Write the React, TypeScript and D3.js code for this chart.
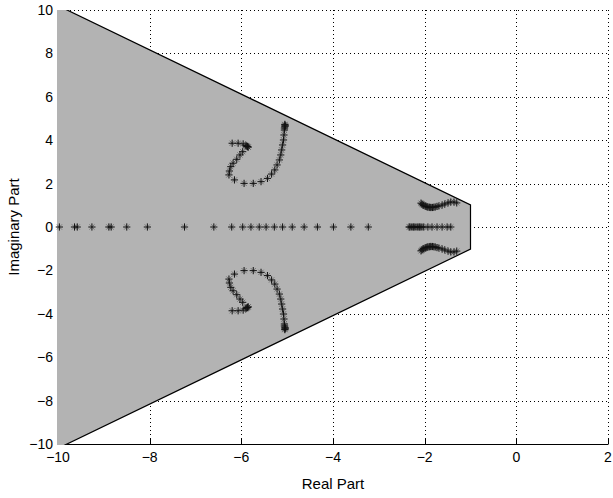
import React from 'react';
import * as d3 from 'd3';

// Axis ticks
const xTicks = [-10, -8, -6, -4, -2, 0, 2];
const yTicks = [-10, -8, -6, -4, -2, 0, 2, 4, 6, 8, 10];

// Admissible pole region: damping ratio >= 0.7 and real part <= -1
const dampingRatio = 0.7;
const sigmaMax = -1;
const regionLeft = -10;

// Closed-loop poles on the real axis
const realAxisPoles = [
  -9.97, -9.64, -9.58, -9.26, -8.89, -8.84, -8.5, -8.05, -7.24, -6.6, -6.21,
  -5.97, -5.79, -5.61, -5.46, -5.28, -5.1, -4.89, -4.63, -4.34, -3.99, -3.61,
  -3.23, -2.34, -2.32, -2.28, -2.25, -2.23, -2.19, -2.15, -2.12, -2.1, -2.06,
  -2.02, -1.93, -1.84, -1.73, -1.62, -1.51, -1.43,
];

// Slow complex branch (upper half plane), [re, im]
const slowBranch: [number, number][] = [
  [-2.08, 1.1], [-2.06, 1.06], [-2.04, 1.02], [-2.02, 1.0], [-1.99, 0.97],
  [-1.97, 0.95], [-1.95, 0.93], [-1.93, 0.92], [-1.9, 0.91], [-1.88, 0.9],
  [-1.86, 0.9], [-1.83, 0.9], [-1.8, 0.91], [-1.77, 0.92], [-1.73, 0.95],
  [-1.69, 0.97], [-1.62, 1.01], [-1.56, 1.06], [-1.49, 1.11], [-1.43, 1.15],
  [-1.36, 1.15], [-1.3, 1.11],
];

// Fast complex branch (upper half plane), [re, im]
const fastBranch: [number, number][] = [
  [-6.2, 3.86], [-6.07, 3.86], [-5.96, 3.83], [-5.9, 3.76], [-5.88, 3.73],
  [-5.86, 3.7], [-5.85, 3.68], [-5.87, 3.71], [-5.97, 3.47], [-6.03, 3.32],
  [-6.1, 3.12], [-6.18, 2.94], [-6.23, 2.78], [-6.26, 2.58], [-6.27, 2.4],
  [-6.15, 2.17], [-5.94, 2.01], [-5.74, 2.01], [-5.57, 2.09], [-5.43, 2.24],
  [-5.34, 2.44], [-5.27, 2.63], [-5.22, 2.86], [-5.17, 3.09], [-5.14, 3.32],
  [-5.12, 3.55], [-5.1, 3.78], [-5.08, 4.01], [-5.07, 4.24], [-5.06, 4.47],
  [-5.06, 4.56], [-5.05, 4.62], [-5.04, 4.66], [-5.05, 4.7], [-5.05, 4.73],
];

const W = 613;
const H = 498;
const FONT = '"Liberation Sans", Arial, Helvetica, sans-serif';

function Asterisk({ cx, cy }: { cx: number; cy: number }) {
  const r = 3.6;
  const d = r * 0.72;
  return (
    <g>
      <path
        d={`M${cx - d},${cy - d}L${cx + d},${cy + d}M${cx - d},${cy + d}L${cx + d},${cy - d}`}
        stroke="#222"
        strokeOpacity={0.45}
        strokeWidth={1}
        fill="none"
      />
      <path
        d={`M${cx - r},${cy}L${cx + r},${cy}M${cx},${cy - r}L${cx},${cy + r}`}
        stroke="#111"
        strokeWidth={1}
        fill="none"
      />
    </g>
  );
}

export default function App() {
  const x = d3.scaleLinear().domain([-10, 2]).range([58, 608]);
  const y = d3.scaleLinear().domain([-10, 10]).range([444, 10]);

  const slope = Math.tan(Math.acos(dampingRatio));
  const edge: [number, number][] = [
    [regionLeft, -regionLeft * slope],
    [sigmaMax, -sigmaMax * slope],
    [sigmaMax, sigmaMax * slope],
    [regionLeft, regionLeft * slope],
  ];
  const line = d3
    .line<[number, number]>()
    .x((d) => x(d[0]))
    .y((d) => y(d[1]));

  const poles: [number, number][] = [
    ...realAxisPoles.map((re) => [re, 0] as [number, number]),
    ...slowBranch,
    ...slowBranch.map(([re, im]) => [re, -im] as [number, number]),
    ...fastBranch,
    ...fastBranch.map(([re, im]) => [re, -im] as [number, number]),
  ];

  const [x0, x1] = x.range();
  const [y0, y1] = [y(10), y(-10)];

  return (
    <svg
      width={W}
      height={H}
      style={{ position: 'fixed', left: 0, top: 0, background: '#fff' }}
      fontFamily={FONT}
    >
      <defs>
        <clipPath id="plotClip">
          <rect x={x0 - 1} y={y0} width={x1 - x0 + 1} height={y1 - y0 + 1} />
        </clipPath>
      </defs>

      {/* grid */}
      <g stroke="#000" strokeWidth={1} strokeDasharray="1,3">
        {xTicks.map((t) => (
          <line key={'gx' + t} x1={Math.round(x(t)) + 0.5} x2={Math.round(x(t)) + 0.5} y1={y0} y2={y1} />
        ))}
        {yTicks.map((t) => (
          <line key={'gy' + t} x1={x0} x2={x1} y1={Math.round(y(t)) + 0.5} y2={Math.round(y(t)) + 0.5} />
        ))}
      </g>

      {/* bottom axis, sits underneath the shaded region */}
      <g stroke="#000" strokeWidth={1}>
        <line x1={x0} x2={x1 + 0.5} y1={Math.round(y1) + 0.5} y2={Math.round(y1) + 0.5} />
        {xTicks.map((t) => (
          <line key={'tx' + t} x1={Math.round(x(t)) + 0.5} x2={Math.round(x(t)) + 0.5} y1={y1} y2={y1 - 5} />
        ))}
      </g>

      {/* admissible region */}
      <g clipPath="url(#plotClip)">
        <path
          d={(line([[regionLeft - 0.05, edge[0][1]], ...edge, [regionLeft - 0.05, edge[3][1]]]) as string) + 'Z'}
          fill="#b3b3b3"
          stroke="none"
        />
        <path d={line(edge) as string} fill="none" stroke="#000" strokeWidth={1.2} />
      </g>

      {/* poles */}
      <g>
        {poles.map(([re, im], i) => (
          <Asterisk key={i} cx={x(re)} cy={y(im)} />
        ))}
      </g>

      {/* tick labels */}
      <g fontSize={14} fill="#000">
        {xTicks.map((t) => (
          <text key={'lx' + t} x={x(t)} y={y1 + 18} textAnchor="middle">
            {t < 0 ? '\u2212' + Math.abs(t) : t}
          </text>
        ))}
        {yTicks.map((t) => (
          <text key={'ly' + t} x={x0 - 5} y={y(t) + 5} textAnchor="end">
            {t < 0 ? '\u2212' + Math.abs(t) : t}
          </text>
        ))}
      </g>

      {/* axis titles */}
      <text x={(x0 + x1) / 2} y={489} textAnchor="middle" fontSize={15}>
        Real Part
      </text>
      <text
        transform={`translate(19,${(y0 + y1) / 2}) rotate(-90)`}
        textAnchor="middle"
        fontSize={15}
      >
        Imaginary Part
      </text>
    </svg>
  );
}
